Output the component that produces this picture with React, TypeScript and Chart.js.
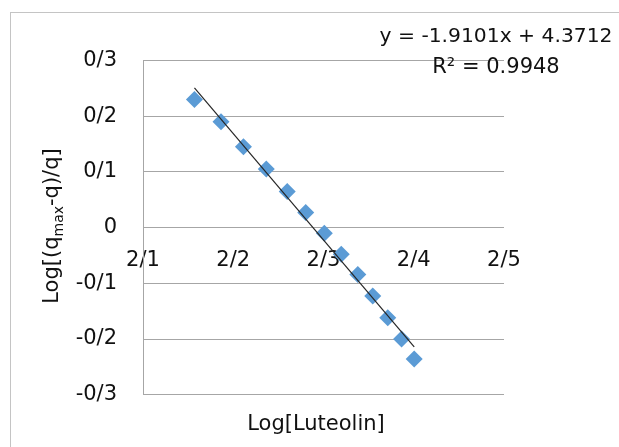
import React, { useEffect, useRef } from 'react';
import { Chart, registerables } from 'chart.js';

Chart.register(...registerables);

// Data
const logLuteolin = [2.157, 2.1864, 2.2113, 2.2366, 2.2598, 2.2803, 2.3009, 2.3197, 2.338, 2.3546, 2.3712, 2.3865, 2.4005];
const logRatio = [0.23, 0.19, 0.145, 0.105, 0.065, 0.027, -0.01, -0.048, -0.084, -0.123, -0.162, -0.2, -0.236];
const trendX = [2.157, 2.4005];
const trendY = [0.251, -0.214];

const xMin = 2.1;
const xMax = 2.5;
const yMin = -0.3;
const yMax = 0.3;
const tickStep = 0.1;

const equationText = 'y = -1.9101x + 4.3712';
const r2Text = 'R² = 0.9948';
const xTitle = 'Log[Luteolin]';
const yTitleParts = ['Log[(q', 'max', '-q)/q]'];

const FONT = '"DejaVu Sans", sans-serif';
const TEXT = '#111111';
const GRID = '#a6a6a6';

const fmt = (v: number) => {
  const r = Math.round(v * 10) / 10;
  if (r === 0) return '0';
  return r.toFixed(1).replace('.', '/');
};

const textPlugin = {
  id: 'excelTexts',
  afterDraw(chart: any) {
    const ctx = chart.ctx as CanvasRenderingContext2D;
    ctx.save();
    ctx.fillStyle = TEXT;
    ctx.textBaseline = 'alphabetic';
    ctx.textAlign = 'center';
    ctx.font = `20.3px ${FONT}`;
    ctx.fillText(equationText, 496, 42);
    ctx.font = `21px ${FONT}`;
    ctx.fillText(r2Text, 496, 73);
    ctx.fillText(xTitle, 316, 429.5);

    // rotated y title with subscript
    const big = `21px ${FONT}`;
    const small = `14px ${FONT}`;
    ctx.translate(58, 226);
    ctx.rotate(-Math.PI / 2);
    ctx.textAlign = 'left';
    ctx.font = big;
    const w1 = ctx.measureText(yTitleParts[0]).width;
    const w3 = ctx.measureText(yTitleParts[2]).width;
    ctx.font = small;
    const w2 = ctx.measureText(yTitleParts[1]).width;
    let a = -(w1 + w2 + w3) / 2;
    ctx.font = big;
    ctx.fillText(yTitleParts[0], a, 0);
    a += w1;
    ctx.font = small;
    ctx.fillText(yTitleParts[1], a, 5);
    a += w2;
    ctx.font = big;
    ctx.fillText(yTitleParts[2], a, 0);
    ctx.restore();
  },
};

export default function App() {
  const ref = useRef<HTMLCanvasElement | null>(null);

  useEffect(() => {
    if (!ref.current) return;
    const chart = new Chart(ref.current, {
      type: 'scatter',
      data: {
        datasets: [
          {
            label: 'trend',
            data: trendX.map((x, i) => ({ x, y: trendY[i] })),
            showLine: true,
            borderColor: '#262626',
            borderWidth: 1.2,
            pointRadius: 0,
            fill: false,
          },
          {
            label: 'data',
            data: logLuteolin.map((x, i) => ({ x, y: logRatio[i] })),
            pointStyle: 'rectRot',
            pointRadius: 8.5,
            backgroundColor: '#5B9BD5',
            borderColor: '#5B9BD5',
            borderWidth: 0,
            showLine: false,
          },
        ],
      },
      options: {
        animation: false,
        responsive: false,
        layout: { padding: { left: 0, top: 60.5, right: 115, bottom: 52.3 } },
        plugins: {
          legend: { display: false },
          tooltip: { enabled: false },
          title: { display: false },
        },
        scales: {
          x: {
            type: 'linear',
            position: { y: 0 } as any,
            min: xMin,
            max: xMax,
            afterFit: (s: any) => {
              s.height = 0;
            },
            grid: { display: false, drawTicks: false },
            border: { display: false },
            ticks: {
              stepSize: tickStep,
              padding: 20,
              maxRotation: 0,
              autoSkip: false,
              color: TEXT,
              font: { family: FONT, size: 21 },
              callback: (v: any) => fmt(Number(v)),
            },
          },
          y: {
            type: 'linear',
            min: yMin,
            max: yMax,
            afterFit: (s: any) => {
              s.width = 143;
            },
            grid: { color: GRID, lineWidth: 1, drawTicks: false },
            border: { display: true, color: GRID, width: 1 },
            ticks: {
              stepSize: tickStep,
              padding: 26,
              color: TEXT,
              font: { family: FONT, size: 21 },
              callback: (v: any) => fmt(Number(v)),
            },
          },
        },
      } as any,
      plugins: [textPlugin],
    });
    return () => chart.destroy();
  }, []);

  return (
    <div
      style={{
        position: 'fixed',
        left: 0,
        top: 0,
        width: 619,
        height: 447,
        overflow: 'hidden',
        background: '#ffffff',
      }}
    >
      <canvas ref={ref} width={619} height={447} style={{ display: 'block' }} />
      <div
        style={{
          position: 'absolute',
          left: 10,
          top: 12,
          width: 620,
          height: 450,
          borderLeft: '1px solid #c4c4c4',
          borderTop: '1px solid #c4c4c4',
          pointerEvents: 'none',
        }}
      />
    </div>
  );
}
